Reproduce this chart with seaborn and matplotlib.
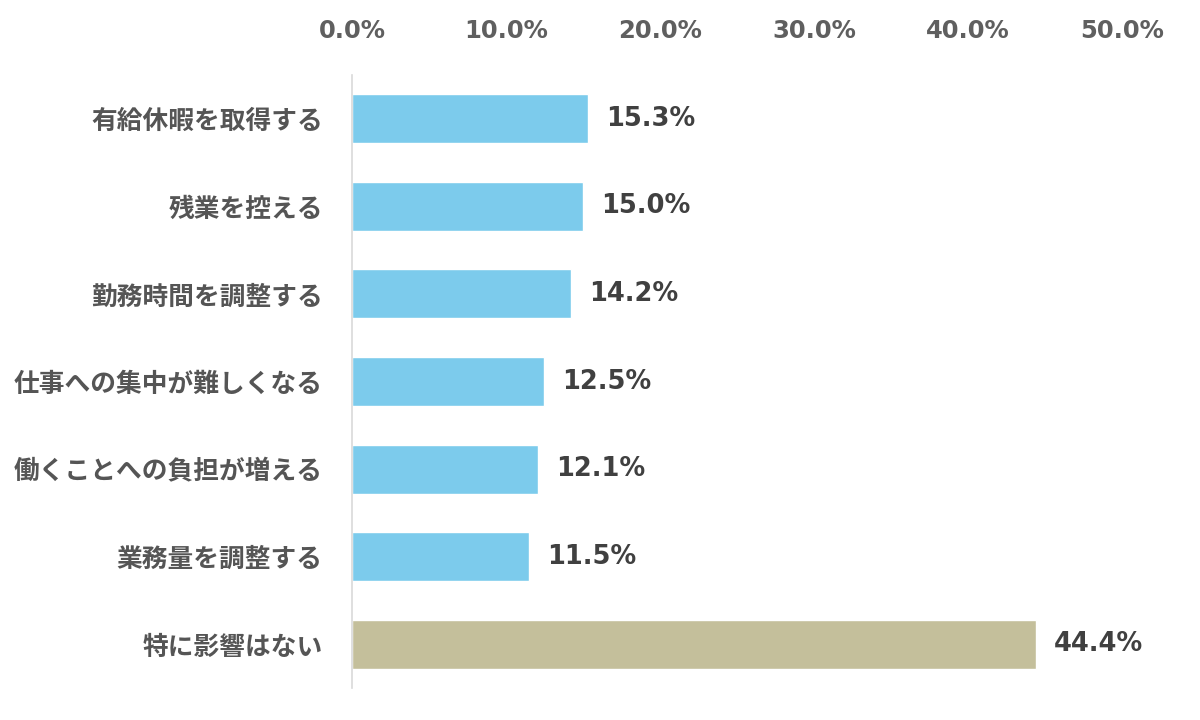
import matplotlib
matplotlib.use("Agg")
import matplotlib.pyplot as plt
import seaborn as sns
import pandas as pd
from matplotlib.ticker import FuncFormatter

# Data
categories = ['有給休暇を取得する', '残業を控える', '勤務時間を調整する', '仕事への集中が難しくなる',
              '働くことへの負担が増える', '業務量を調整する', '特に影響はない']
values = [15.3, 15.0, 14.2, 12.5, 12.1, 11.5, 44.4]
bar_colors = ['#7ccbec'] * 6 + ['#c4bf9b']
x_ticks = [0, 10, 20, 30, 40, 50]

df = pd.DataFrame({'item': categories, 'pct': values})

sns.set_style("white")
plt.rcParams['font.family'] = ['Noto Sans CJK JP', 'DejaVu Sans']

fig = plt.figure(figsize=(12, 7.2), dpi=100)
ax = fig.add_axes([0.2933, 0.0444, 0.6417, 0.8514])

sns.barplot(data=df, y='item', x='pct', hue='item', palette=bar_colors,
            orient='h', width=0.56, legend=False, ax=ax, saturation=1)

ax.set_xlim(0, 50)
ax.set_ylim(6.5, -0.5)
ax.set_xticks(x_ticks)
ax.xaxis.set_major_formatter(FuncFormatter(lambda v, p: f'{v:.1f}%'))
ax.xaxis.tick_top()
ax.tick_params(axis='x', length=0, pad=23, labelsize=17.5, labelcolor='#5f5f5f')
ax.tick_params(axis='y', length=0, pad=21, labelsize=18.5, labelcolor='#555555')
for lbl in ax.get_xticklabels():
    lbl.set_fontweight('bold')
    lbl.set_fontfamily('DejaVu Sans')
for lbl in ax.get_yticklabels():
    lbl.set_fontweight('bold')

ax.set_xlabel('')
ax.set_ylabel('')
for side in ['top', 'right', 'bottom']:
    ax.spines[side].set_visible(False)
ax.spines['left'].set_color('#d9d9d9')
ax.spines['left'].set_linewidth(1.2)

for cont in ax.containers:
    ax.bar_label(cont, fmt='%.1f%%', padding=13, fontsize=18.5, fontweight='bold',
                 color='#404040', family='DejaVu Sans')

fig.savefig('out.png', dpi=100)
